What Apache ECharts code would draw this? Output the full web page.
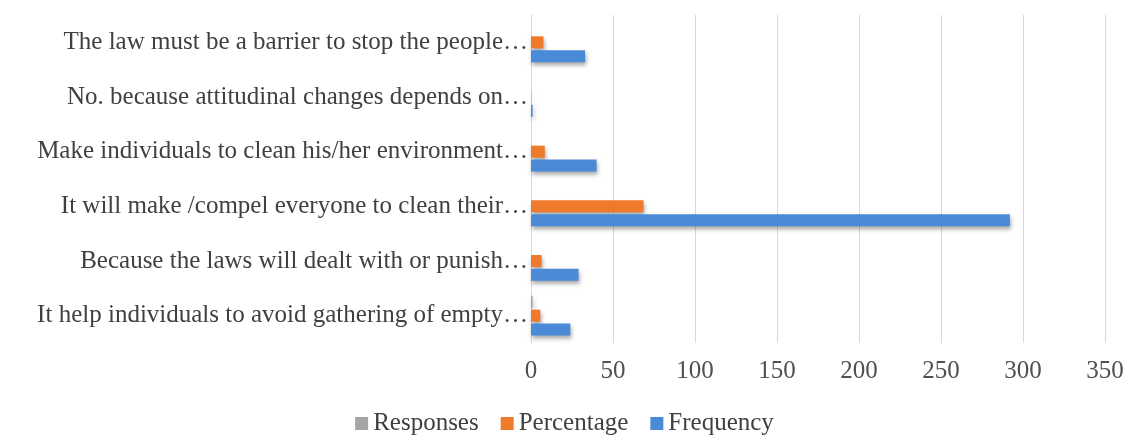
<!DOCTYPE html>
<html>
<head>
<meta charset="utf-8">
<script src="https://cdn.jsdelivr.net/npm/echarts@6/dist/echarts.min.js"></script>
<style>
html,body{margin:0;padding:0;background:#fff;}
#chart{width:1129px;height:436px;}
</style>
</head>
<body>
<div id="chart"></div>
<script>
// Categories listed bottom to top
var categories = [
  "It help individuals to avoid gathering of empty…",
  "Because the laws will dealt with or punish…",
  "It will make /compel everyone to clean their…",
  "Make individuals to clean his/her environment…",
  "No. because attitudinal changes depends on…",
  "The law must be a barrier to stop the people…"
];
var responses = [1, 0, 0, 0, 0, 0];
var percentage = [5.7, 6.5, 68.6, 8.4, 0.2, 7.6];
var frequency = [24, 29, 292, 40, 1, 33];
var xTicks = [0, 50, 100, 150, 200, 250, 300, 350];

var serif = "'Liberation Serif', 'DejaVu Serif', serif";
var shadow = {shadowBlur: 4, shadowOffsetX: 1, shadowOffsetY: 3, shadowColor: 'rgba(0,0,0,0.35)'};

var chart = echarts.init(document.getElementById('chart'), null, {renderer: 'canvas'});
chart.setOption({
  animation: false,
  backgroundColor: '#ffffff',
  grid: {left: 531, right: 24, top: 15, bottom: 93, containLabel: false},
  legend: {
    data: ['Responses', 'Percentage', 'Frequency'],
    top: 406,
    left: 'center',
    icon: 'rect',
    itemWidth: 13,
    itemHeight: 13,
    itemGap: 22,
    textStyle: {fontFamily: serif, fontSize: 25, color: '#404040'}
  },
  xAxis: {
    type: 'value',
    min: xTicks[0],
    max: xTicks[xTicks.length - 1],
    interval: 50,
    axisLine: {show: false},
    axisTick: {show: false},
    splitLine: {show: true, lineStyle: {color: '#d9d9d9', width: 1}},
    axisLabel: {fontFamily: serif, fontSize: 25, color: '#505050', margin: 16}
  },
  yAxis: {
    type: 'category',
    data: categories,
    axisLine: {show: true, lineStyle: {color: '#d9d9d9', width: 1}},
    axisTick: {show: false},
    axisLabel: {fontFamily: serif, fontSize: 25, color: '#404040', margin: 3}
  },
  series: [
    {
      name: 'Responses', type: 'bar', data: responses, barWidth: 12, barGap: '15%', barCategoryGap: '30%',
      itemStyle: Object.assign({color: '#a5a5a5'}, shadow)
    },
    {
      name: 'Percentage', type: 'bar', data: percentage, barWidth: 12, barGap: '15%',
      itemStyle: Object.assign({color: '#ef7a2c'}, shadow)
    },
    {
      name: 'Frequency', type: 'bar', data: frequency, barWidth: 12, barGap: '15%',
      itemStyle: Object.assign({color: '#4a8ad6'}, shadow)
    }
  ]
});
</script>
</body>
</html>
